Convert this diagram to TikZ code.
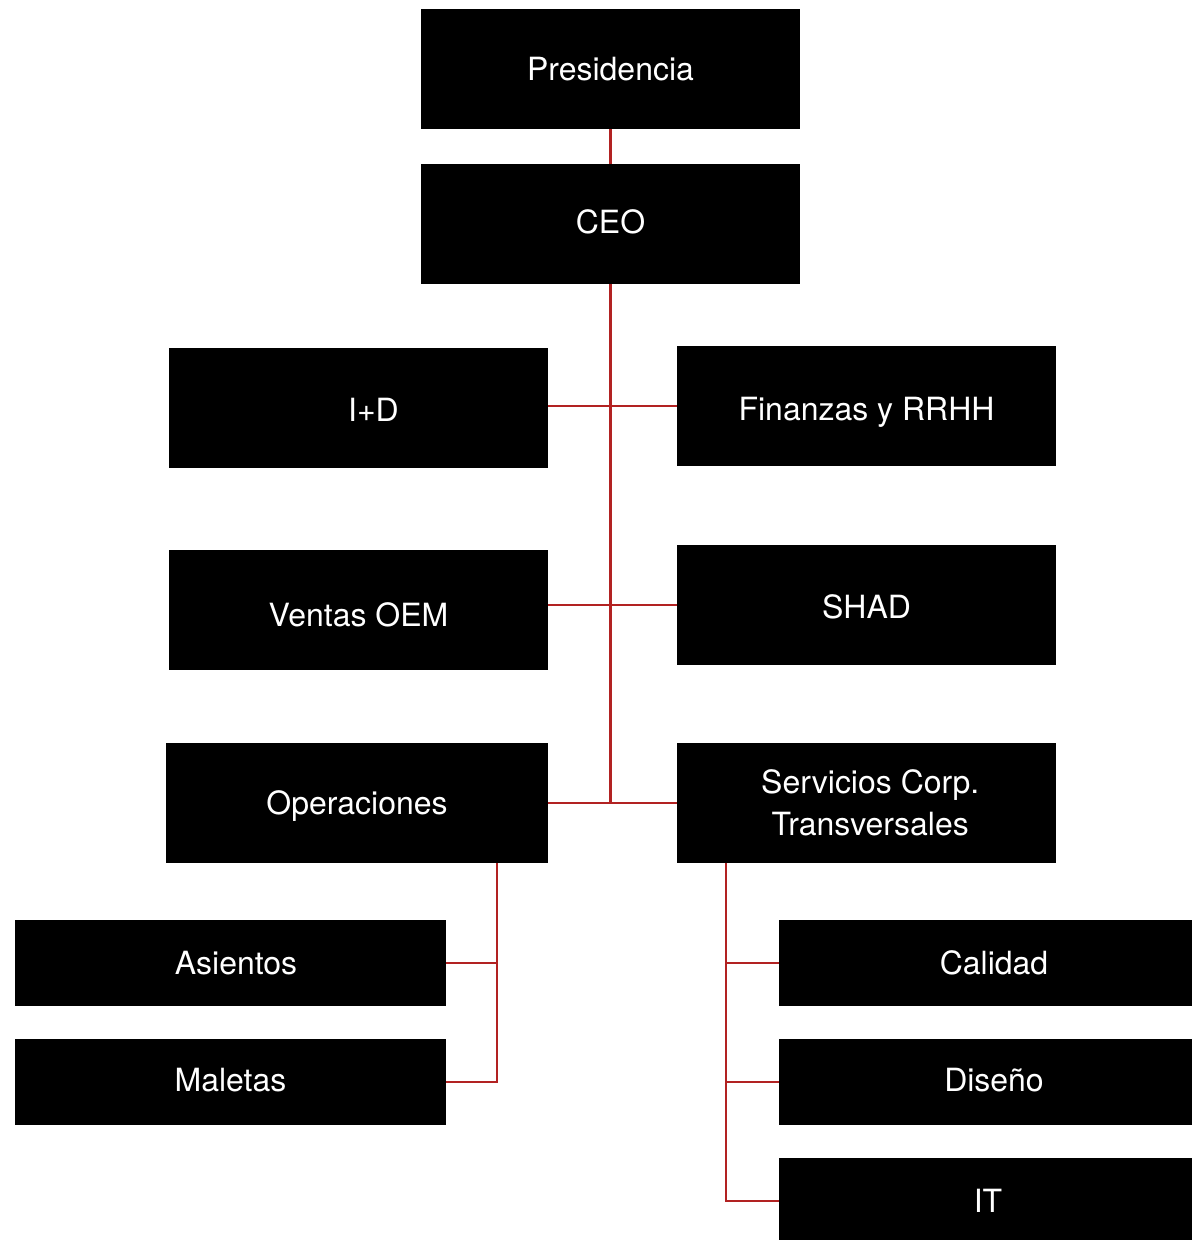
\documentclass[tikz,border=0pt]{standalone}
\usepackage{fontspec}
\setmainfont{TeX Gyre Heros}
\definecolor{linkred}{HTML}{B22222}
\begin{document}
\begin{tikzpicture}[x=0.02cm, y=-0.02cm,
  unit/.style={rectangle, fill=black, text=white, inner sep=0pt, align=center,
    minimum width=7.58cm, minimum height=2.4cm, text height=13.1pt, text depth=0pt,
    font=\fontsize{18.2}{24}\selectfont},
  subunit/.style={unit, minimum width=8.62cm, minimum height=1.72cm},
  link/.style={draw=linkred, line width=1.2pt}]

\useasboundingbox (0,0) rectangle (1192,1240);
%
  \node[unit] (pres) at (610.5,69) {Presidencia};
  \node[unit] (ceo) at (610.5,224) {\raisebox{0.04cm}{CEO}};
%
  \node[unit] (id) at (358.5,408) {\hspace{0.6cm}\raisebox{-0.04cm}{I+D}};
  \node[unit] (fin) at (866.5,406) {\raisebox{-0.05cm}{Finanzas y RRHH}};
  \node[unit] (ventas) at (358.5,610) {\raisebox{-0.1cm}{Ventas OEM}};
  \node[unit] (shad) at (866.5,605) {\raisebox{-0.04cm}{SHAD}};
  \node[unit, minimum width=7.64cm] (ops) at (357,803) {Operaciones};
  \node[unit, text height=37pt] (serv) at (866.5,803)
    {\hspace{0.15cm}Servicios Corp.\\\hspace{0.15cm}Transversales};
%
  \node[subunit] (asi) at (230.5,963) {\hspace{0.22cm}Asientos};
  \node[subunit] (mal) at (230.5,1082) {\raisebox{0.04cm}{Maletas}};
  \node[subunit, minimum width=8.26cm] (cal) at (985.5,963) {\hspace{0.34cm}Calidad};
  \node[subunit, minimum width=8.26cm] (dis) at (985.5,1082) {\hspace{0.34cm}\raisebox{0.05cm}{Diseño}};
  \node[subunit, minimum width=8.26cm] (it) at (985.5,1201) {\hspace{0.1cm}IT};
%
  \draw[link] (pres) -- (ceo);
  \draw[link] (ceo.south) -- (ceo.south |- ops.east);
  \draw[link] (fin.west) -- (fin.west -| id.east);
  \draw[link] (shad.west) -- (shad.west -| ventas.east);
  \draw[link] (ops.east) -- (serv.west);
%
  \coordinate (opsdrop) at (497,863);
  \draw[link] (opsdrop) |- (asi.east);
  \draw[link] (opsdrop) |- (mal.east);
%
  \coordinate (servdrop) at (726,863);
  \draw[link] (servdrop) |- (cal.west);
  \draw[link] (servdrop) |- (dis.west);
  \draw[link] (servdrop) |- (it.west);
%
\end{tikzpicture}
\end{document}
